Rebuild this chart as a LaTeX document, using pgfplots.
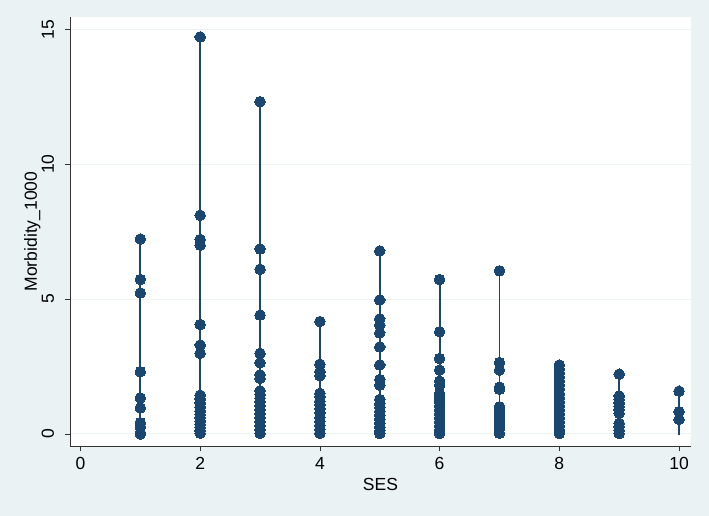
\documentclass[border=0pt]{standalone}
\usepackage{fontspec}
\setmainfont{Liberation Sans}
\usepackage{pgfplots}
\pgfplotsset{compat=1.18}
\definecolor{stblue}{HTML}{1A476F}
\definecolor{stbg}{HTML}{EAF2F3}
\definecolor{stgrid}{HTML}{EEF3F4}
\begin{document}
\fontsize{17.5bp}{21bp}\selectfont
\begin{tikzpicture}
\fill[stbg] (0,0) rectangle (709bp,516bp);
\useasboundingbox (0,0) rectangle (709bp,516bp);
\begin{axis}[
  at={(70bp,70bp)}, anchor=south west,
  width=621bp, height=429bp, scale only axis,
  xmin=-0.175, xmax=10.2, ymin=-0.445, ymax=15.46,
  axis background/.style={fill=white},
  axis lines*=left,
  axis line style={-, draw=black!80, line width=0.9pt},
  xtick={0,2,4,6,8,10}, ytick={0,5,10,15},
  tick align=outside, major tick length=5bp,
  tick style={black!80, line width=0.8pt},
  ymajorgrids, major grid style={stgrid, line width=1pt},
  /pgf/number format/assume math mode=true,
  xticklabel style={font=\fontsize{17.5bp}{21bp}\selectfont},
  yticklabel style={font=\fontsize{17.5bp}{21bp}\selectfont, xshift=-5bp, rotate=90, anchor=south},
  xlabel={SES}, ylabel={Morbidity\_1000},
  label style={font=\fontsize{17.5bp}{21bp}\selectfont},
  every axis x label/.style={at={(axis description cs:0.5,0)}, anchor=base, yshift=-45bp},
  every axis y label/.style={at={(axis description cs:0,0.5)}, xshift=-33bp, rotate=90, anchor=base},
  st/.style={stblue, line width=1.8pt, mark=*, mark size=5.3bp, mark options={fill=stblue, draw=stblue, line width=0pt}},
  clip=false,
]
\addplot[st] coordinates {(1,7.23)(1,5.73)(1,5.23)(1,2.31)(1,1.34)(1,0.97)(1,0.42)(1,0.27)(1,0.05)(1,0)};
\addplot[st] coordinates {(2,14.72)(2,8.11)(2,7.21)(2,7.0)(2,4.06)(2,3.30)(2,2.99)(2,1.44)(2,1.30)(2,1.15)(2,1.0)(2,0.85)(2,0.72)(2,0.6)(2,0.48)(2,0.36)(2,0.24)(2,0.12)(2,0.03)};
\addplot[st] coordinates {(3,12.32)(3,6.86)(3,6.11)(3,4.41)(3,2.99)(3,2.64)(3,2.19)(3,2.06)(3,1.60)(3,1.47)(3,1.33)(3,1.20)(3,1.05)(3,0.9)(3,0.75)(3,0.6)(3,0.45)(3,0.3)(3,0.15)(3,0.03)};
\addplot[st] coordinates {(4,4.17)(4,2.59)(4,2.31)(4,2.16)(4,1.51)(4,1.38)(4,1.22)(4,1.08)(4,0.93)(4,0.78)(4,0.62)(4,0.48)(4,0.33)(4,0.18)(4,0.03)};
\addplot[st] coordinates {(5,6.79)(5,4.97)(5,4.27)(5,4.04)(5,3.75)(5,3.23)(5,2.56)(5,2.02)(5,1.81)(5,1.28)(5,1.12)(5,0.98)(5,0.84)(5,0.7)(5,0.55)(5,0.4)(5,0.25)(5,0.12)(5,0.02)};
\addplot[st] coordinates {(6,5.73)(6,3.79)(6,2.80)(6,2.37)(6,1.96)(6,1.81)(6,1.50)(6,1.35)(6,1.2)(6,1.05)(6,0.9)(6,0.75)(6,0.6)(6,0.45)(6,0.3)(6,0.15)(6,0.02)};
\addplot[st] coordinates {(7,6.05)(7,2.65)(7,2.37)(7,1.74)(7,1.66)(7,1.01)(7,0.87)(7,0.73)(7,0.6)(7,0.46)(7,0.32)(7,0.18)(7,0.03)};
\addplot[st] coordinates {(8,2.56)(8,2.4)(8,2.25)(8,2.1)(8,1.95)(8,1.8)(8,1.65)(8,1.5)(8,1.35)(8,1.2)(8,1.05)(8,0.9)(8,0.75)(8,0.6)(8,0.45)(8,0.3)(8,0.15)(8,0.02)};
\addplot[st] coordinates {(9,2.22)(9,1.41)(9,1.28)(9,1.15)(9,1.02)(9,0.9)(9,0.77)(9,0.40)(9,0.27)(9,0.14)(9,0.02)};
\addplot[st] coordinates {(10,1.59)(10,0.83)(10,0.54)};
\addplot[stblue, line width=1.8pt, no marks] coordinates {(10,0.54)(10,-0.05)};
\end{axis}
\end{tikzpicture}
\end{document}
